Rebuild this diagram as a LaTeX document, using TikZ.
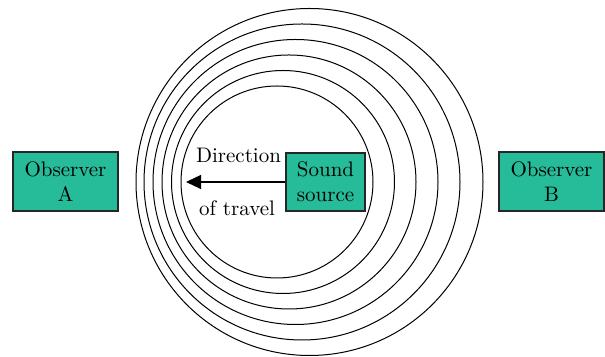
\documentclass[tikz,border=0pt]{standalone}
\usetikzlibrary{arrows.meta}
\definecolor{wavebox}{RGB}{38,187,153}
\tikzset{
    boxed/.style={draw=black!85, line width=0.6pt, fill=wavebox, align=center,
        inner sep=0pt, font=\fontsize{10.5}{12.5}\selectfont}
}
\begin{document}
\begin{tikzpicture}[x=0.5pt, y=0.5pt, every node/.style={font=\fontsize{10.5}{12.5}\selectfont}]
    \useasboundingbox (0,0) rectangle (605,357);
    % wave fronts, newest one leftmost
    \foreach \cx/\r in {277/96, 283/111.5, 289/127, 295.5/142.5, 302/158, 309.5/173.5}
        \draw[line width=0.5pt] (\cx,175) circle[radius=\r];
    \node[boxed, minimum width=52.5pt, minimum height=29.5pt] (obsA) at (65.5,175.5) {Observer\\A};
    \node[boxed, minimum width=52.5pt, minimum height=29.5pt] (obsB) at (551.5,175.5) {Observer\\B};
    \node[boxed, minimum width=39.5pt, minimum height=29pt] (src) at (325.5,175) {Sound\\source};
    \coordinate (tip) at (186,175);
    \draw[line width=0.6pt, -{Triangle[length=7.5pt, width=7pt]}] (src.west) -- (tip);
    \node (dir) at (238.5,202) {Direction};
    \node (trav) at (237,149) {of travel};
\end{tikzpicture}
\end{document}
